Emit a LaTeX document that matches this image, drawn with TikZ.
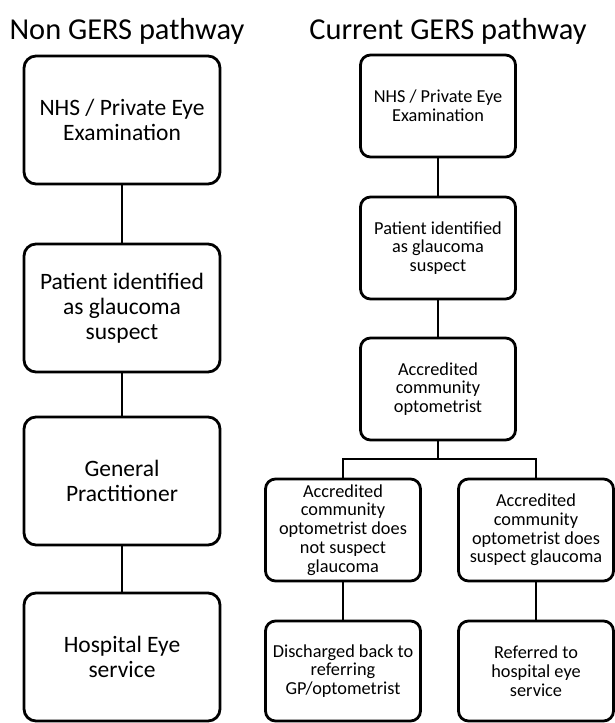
\documentclass[tikz,border=0pt]{standalone}
\usepackage{fontspec}
\setmainfont{Carlito}
\usepackage{tikz}
\usetikzlibrary{positioning}

\begin{document}
\begin{tikzpicture}[x=1pt, y=-1pt,
    bigbox/.style={draw, line width=2.8pt, rounded corners=12pt, align=center,
        minimum width=196, minimum height=128, inner sep=0pt, outer sep=0pt,
        font=\fontsize{23.5}{25}\selectfont},
    smallbox/.style={draw, line width=2.8pt, rounded corners=10pt, align=center,
        minimum width=155, minimum height=102, inner sep=0pt, outer sep=0pt,
        font=\fontsize{18.3}{18.8}\selectfont},
    link/.style={line width=2.8pt},
    heading/.style={anchor=base, font=\fontsize{30.4}{32}\selectfont}]
    \useasboundingbox (0,0) rectangle (615,723);

    \node[heading] (nontitle) at (127,39) {Non GERS pathway};
    \node[heading] (curtitle) at (448,39) {Current GERS pathway};

    \node[bigbox] (exam) at (122,120) {NHS / Private Eye\\Examination};
    \node[bigbox] (suspect) at (122,308) {Patient identified\\as glaucoma\\suspect};
    \node[bigbox] (gp) at (122,481) {General\\Practitioner};
    \node[bigbox] (hospital) at (122,657) {Hospital Eye\\service};
    \draw[link] (exam) -- (suspect);
    \draw[link] (suspect) -- (gp);
    \draw[link] (gp) -- (hospital);

    \node[smallbox] (gexam) at (438,106) {NHS / Private Eye\\Examination};
    \node[smallbox] (gsuspect) at (438,248) {Patient identified\\as glaucoma\\suspect};
    \node[smallbox] (optom) at (438,389) {Accredited\\community\\optometrist};
    \node[smallbox] (nosusp) at (343,530) {Accredited\\community\\optometrist does\\not suspect\\glaucoma};
    \node[smallbox] (dosusp) at (536,530) {Accredited\\community\\optometrist does\\suspect glaucoma};
    \node[smallbox, minimum height=100] (discharge) at (343,671) {Discharged back to\\referring\\GP/optometrist};
    \node[smallbox, minimum height=100] (referred) at (536,671) {Referred to\\hospital eye\\service};
    \coordinate (split) at (438,459);
    \draw[link] (gexam) -- (gsuspect);
    \draw[link] (gsuspect) -- (optom);
    \draw[link] (optom) -- (split);
    \draw[link] (nosusp.north) |- (split) -| (dosusp.north);
    \draw[link] (nosusp) -- (discharge);
    \draw[link] (dosusp) -- (referred);
\end{tikzpicture}
\end{document}
